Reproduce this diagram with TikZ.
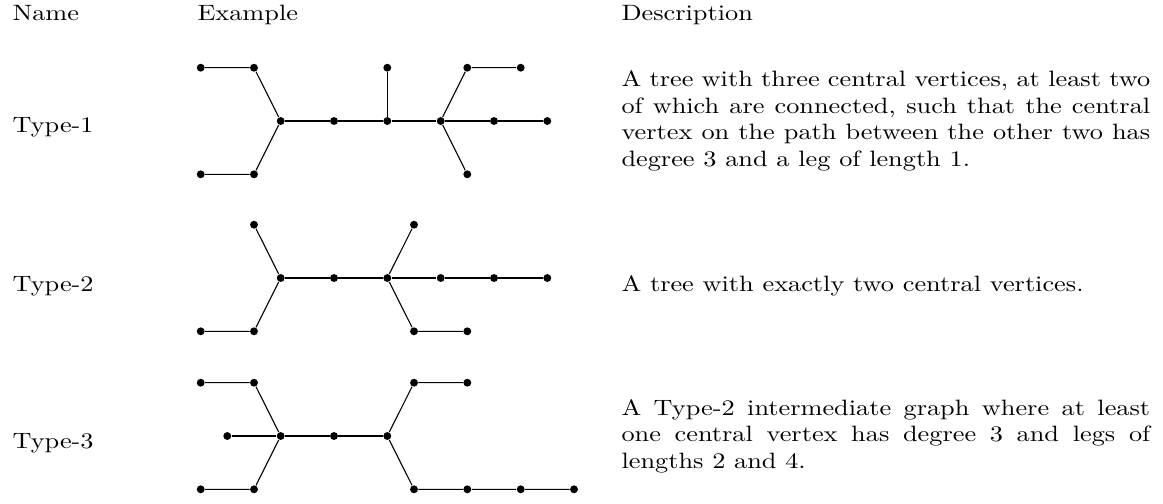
\documentclass[tikz,border=0pt]{standalone}
\usepackage{graphicx}
\newcommand\sqz[1]{\scalebox{1}[0.844]{#1}}
\newcommand\para[1]{\sqz{\parbox[t]{201pt}{\fontsize{10}{12}\selectfont #1}}}
\begin{document}
\begin{tikzpicture}[x=0.3802pt,y=-0.3802pt,
  v/.style={circle,fill=black,inner sep=0pt,minimum size=3pt},
  lbl/.style={anchor=base west,inner sep=0pt,font=\fontsize{10}{12}\selectfont},
  desc/.style={anchor=base west,inner sep=0pt}]
\useasboundingbox (0,0) rectangle (1163,503);
% headers
\node[lbl] (hname) at (12,20.7) {\sqz{Name}};
\node[lbl] (hex) at (197,20.7) {\sqz{Example}};
\node[lbl] (hdesc) at (621,20.7) {\sqz{Description}};
% row labels
\node[lbl] (t1) at (12,132) {\sqz{Type-1}};
\node[lbl] (t2) at (12,291) {\sqz{Type-2}};
\node[lbl] (t3) at (12,448) {\sqz{Type-3}};
% descriptions
\node[desc] (d1) at (621,86.7) {\para{A tree with three central vertices, at least two of which are connected, such that the central vertex on the path between the other two has degree 3 and a leg of length 1.}};
\node[desc] (d2) at (621,291) {\para{A tree with exactly two central vertices.}};
\node[desc] (d3) at (621,415) {\para{A Type-2 intermediate graph where at least one central vertex has degree 3 and legs of lengths 2 and 4.}};
% Type-1
\node[v] (a1) at (200.7,67.7) {};
\node[v] (a2) at (254,67.7) {};
\node[v] (a3) at (280.7,121) {};
\node[v] (a4) at (254,174.3) {};
\node[v] (a5) at (200.7,174.3) {};
\node[v] (a6) at (334,121) {};
\node[v] (a7) at (387.3,121) {};
\node[v] (a8) at (387.3,67.7) {};
\node[v] (a9) at (440.7,121) {};
\node[v] (a10) at (467.3,67.7) {};
\node[v] (a11) at (520.7,67.7) {};
\node[v] (a12) at (494,121) {};
\node[v] (a13) at (547.3,121) {};
\node[v] (a14) at (467.3,174.3) {};
\draw (a1) -- (a2) -- (a3) -- (a4) -- (a5);
\draw (a3) -- (a6) -- (a7) -- (a9) -- (a12) -- (a13);
\draw (a7) -- (a8);
\draw (a9) -- (a10) -- (a11);
\draw (a9) -- (a14);
% Type-2
\node[v] (b1) at (254,224.7) {};
\node[v] (b2) at (280.7,278) {};
\node[v] (b3) at (254,331.3) {};
\node[v] (b4) at (200.7,331.3) {};
\node[v] (b5) at (334,278) {};
\node[v] (b6) at (387.3,278) {};
\node[v] (b7) at (414,224.7) {};
\node[v] (b8) at (440.7,278) {};
\node[v] (b9) at (494,278) {};
\node[v] (b10) at (547.3,278) {};
\node[v] (b11) at (414,331.3) {};
\node[v] (b12) at (467.3,331.3) {};
\draw (b1) -- (b2) -- (b3) -- (b4);
\draw (b2) -- (b5) -- (b6) -- (b8) -- (b9) -- (b10);
\draw (b6) -- (b7);
\draw (b6) -- (b11) -- (b12);
% Type-3
\node[v] (c1) at (200.7,382.7) {};
\node[v] (c2) at (254,382.7) {};
\node[v] (c3) at (280.7,436) {};
\node[v] (c4) at (227.3,436) {};
\node[v] (c5) at (254,489.3) {};
\node[v] (c6) at (200.7,489.3) {};
\node[v] (c7) at (334,436) {};
\node[v] (c8) at (387.3,436) {};
\node[v] (c9) at (414,382.7) {};
\node[v] (c10) at (467.3,382.7) {};
\node[v] (c11) at (414,489.3) {};
\node[v] (c12) at (467.3,489.3) {};
\node[v] (c13) at (520.7,489.3) {};
\node[v] (c14) at (574,489.3) {};
\draw (c1) -- (c2) -- (c3) -- (c5) -- (c6);
\draw (c4) -- (c3) -- (c7) -- (c8);
\draw (c8) -- (c9) -- (c10);
\draw (c8) -- (c11) -- (c12) -- (c13) -- (c14);
\end{tikzpicture}
\end{document}
